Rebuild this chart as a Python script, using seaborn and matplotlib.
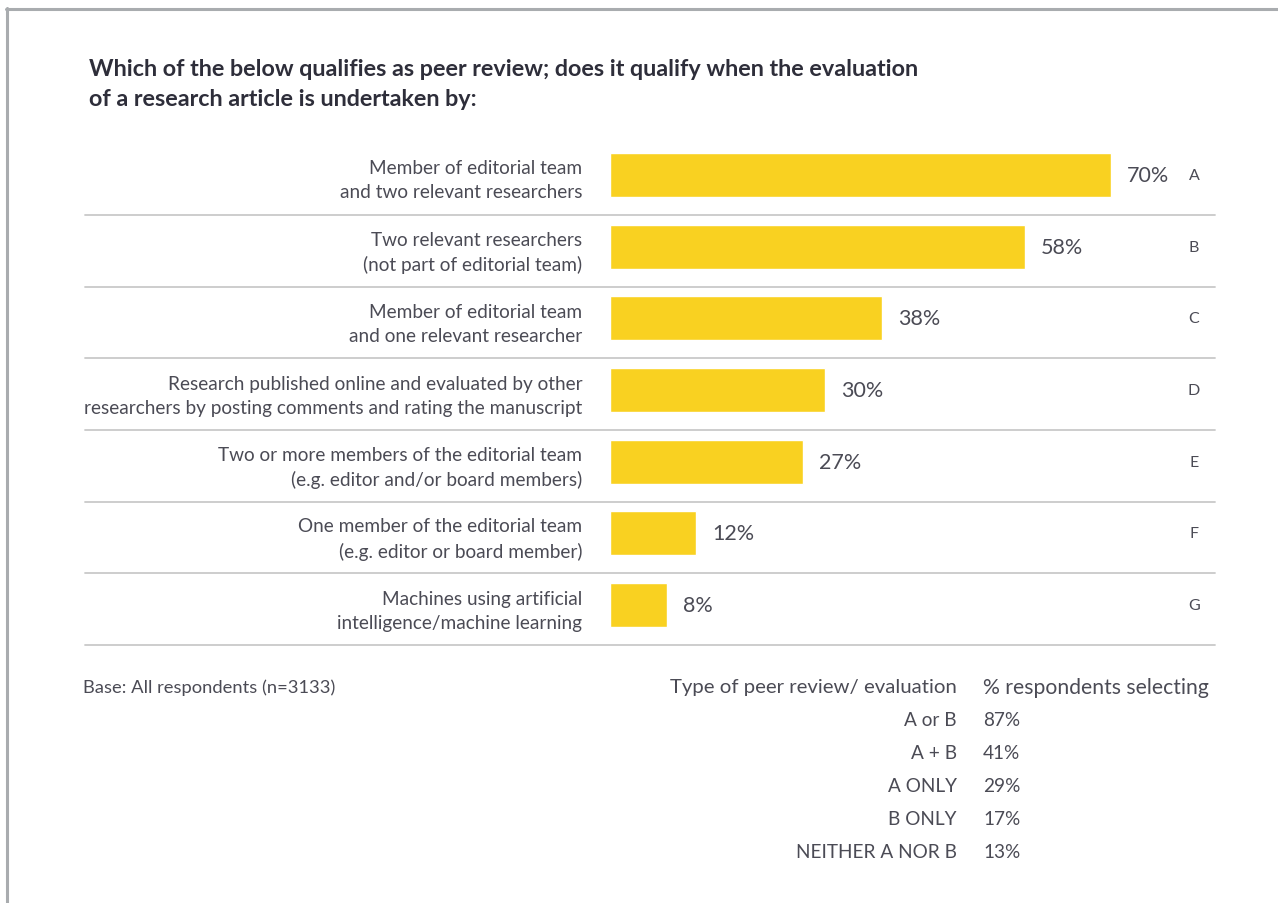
import matplotlib
matplotlib.use("Agg")
import matplotlib.pyplot as plt
from matplotlib.lines import Line2D
import seaborn as sns
import pandas as pd

# Survey responses: share of respondents who consider each set-up to be peer review
categories = [
    "Member of editorial team\nand two relevant researchers",
    "Two relevant researchers\n(not part of editorial team)",
    "Member of editorial team\nand one relevant researcher",
    "Research published online and evaluated by other\nresearchers by posting comments and rating the manuscript",
    "Two or more members of the editorial team\n(e.g. editor and/or board members)",
    "One member of the editorial team\n(e.g. editor or board member)",
    "Machines using artificial\nintelligence/machine learning",
]
percentages = [70, 58, 38, 30, 27, 12, 8]
letters = ["A", "B", "C", "D", "E", "F", "G"]

# Combination summary table
combo_types = ["A or B", "A + B", "A ONLY", "B ONLY", "NEITHER A NOR B"]
combo_values = ["87%", "41%", "29%", "17%", "13%"]

title = ("Which of the below qualifies as peer review; does it qualify when the evaluation\n"
         "of a research article is undertaken by:")
base_note = "Base: All respondents (n=3133)"

YELLOW = "#F9D121"
TEXT = "#4b4b55"
TITLE_C = "#2e2e3a"
RULE = "#c9c9c9"
FRAME = "#a9acaf"

sns.set_theme(style="white")
plt.rcParams["font.family"] = ["Lato", "DejaVu Sans"]

W, H = 1278, 904
fig = plt.figure(figsize=(W / 100, H / 100), dpi=100)
fig.patch.set_facecolor("white")

# Plot area: one row per category, bars sitting slightly above each row's middle
row_pitch = 71.67
first_center = 176.0
ax_top = first_center - row_pitch / 2
ax_bottom = ax_top + row_pitch * len(categories)
ax = fig.add_axes([610 / W, 1 - ax_bottom / H, (W - 610) / W, (ax_bottom - ax_top) / H])

df = pd.DataFrame({"category": categories, "value": percentages})
sns.barplot(data=df, y="category", x="value", orient="h", color=YELLOW,
            saturation=1, width=0.614, ax=ax)

px_per_pct = 501 / 70
ax.set_xlim(0, (W - 610) / px_per_pct)
ax.set_ylim(len(categories) - 0.5, -0.5)
ax.set_xlabel("")
ax.set_ylabel("")
ax.set_xticks([])
for s in ax.spines.values():
    s.set_visible(False)
ax.tick_params(axis="y", length=0, pad=20, labelsize=13.7, labelcolor=TEXT)
for lab in ax.get_yticklabels():
    lab.set_linespacing(1.5)

ax.bar_label(ax.containers[0], fmt="{:.0f}%", padding=11.5, fontsize=15.5, color=TEXT)

# Row separators
x0 = (85 - 610) / (W - 610)
x1 = (1215 - 610) / (W - 610)
sep_offset = 0.556
for i in range(len(categories)):
    ax.axhline(i + sep_offset, xmin=x0, xmax=x1, color=RULE, lw=1.3, clip_on=False)

# Row letters on the right
letter_x = (1194 - 610) / (W - 610)
for i, letter in enumerate(letters):
    ax.text(letter_x, i, letter, transform=ax.get_yaxis_transform(),
            ha="center", va="center", fontsize=11.5, color=TEXT)

# Title
fig.text(89 / W, 1 - 59 / H, title, ha="left", va="top", fontsize=16.8,
         fontweight="bold", color=TITLE_C, linespacing=1.55)

# Base note
fig.text(83 / W, 1 - 688 / H, base_note, ha="left", va="center", fontsize=13.2, color=TEXT)

# Summary table
fig.text(957 / W, 1 - 688 / H, "Type of peer review/ evaluation", ha="right", va="center",
         fontsize=14.7, color=TEXT)
fig.text(983 / W, 1 - 688 / H, "% respondents selecting", ha="left", va="center",
         fontsize=15.2, color=TEXT)
for k, (t, v) in enumerate(zip(combo_types, combo_values)):
    y = 1 - (721 + 33 * k) / H
    fig.text(957 / W, y, t, ha="right", va="center", fontsize=13.7, color=TEXT)
    fig.text(983 / W, y, v, ha="left", va="center", fontsize=13.7, color=TEXT)

# Frame lines along the top and left
fig.add_artist(Line2D([7 / W, 7 / W], [0, 1 - 9 / H], color=FRAME, lw=2.2,
                      transform=fig.transFigure))
fig.add_artist(Line2D([6 / W, 1], [1 - 10 / H, 1 - 10 / H], color=FRAME, lw=2.2,
                      transform=fig.transFigure))

fig.savefig("out.png", dpi=100, facecolor="white")
